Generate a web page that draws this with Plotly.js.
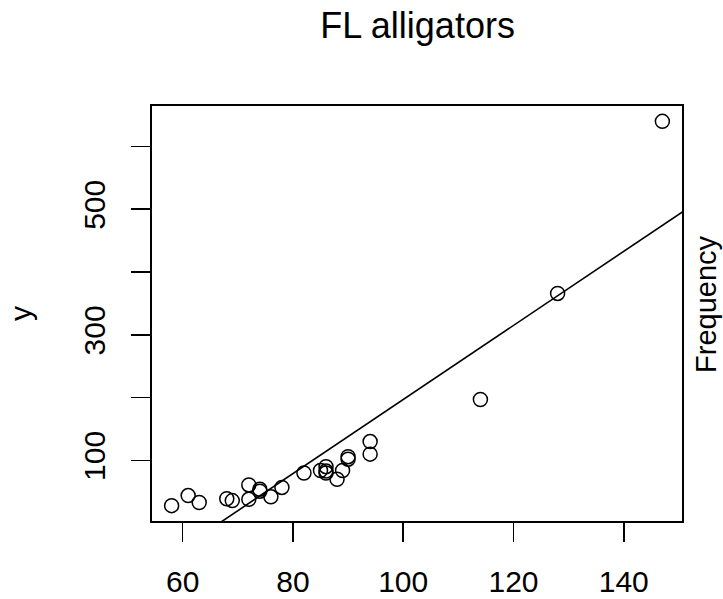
<!DOCTYPE html>
<html><head><meta charset="utf-8">
<script src="https://cdn.plot.ly/plotly-3.0.1.min.js"></script>
<style>html,body{margin:0;padding:0;background:#fff}</style>
</head><body>
<div id="chart" style="width:723px;height:599px"></div>
<script>
const lengthVals = [94, 74, 147, 58, 86, 94, 63, 86, 69, 72, 128, 85, 82, 86, 88, 72, 74, 61, 90, 89, 68, 76, 114, 90, 78];
const weightVals = [130, 51, 640, 28, 80, 110, 33, 90, 36, 38, 366, 84, 80, 83, 70, 61, 54, 44, 106, 84, 39, 42, 197, 102, 57];
const xTicks = [60, 80, 100, 120, 140];
const yTicks = [100, 200, 300, 400, 500, 600];
const yTickText = ['100', '', '300', '', '500', ''];

// least-squares fit (like abline(lm(y ~ x)))
const n = lengthVals.length;
const mx = lengthVals.reduce((a,b)=>a+b,0)/n;
const my = weightVals.reduce((a,b)=>a+b,0)/n;
let sxy = 0, sxx = 0;
for (let i=0;i<n;i++){ sxy += (lengthVals[i]-mx)*(weightVals[i]-my); sxx += (lengthVals[i]-mx)**2; }
const slope = sxy/sxx, intercept = my - slope*mx;

// R-style 4% axis extension
const xmin = Math.min(...lengthVals), xmax = Math.max(...lengthVals);
const ymin = Math.min(...weightVals), ymax = Math.max(...weightVals);
const xr = [xmin - 0.04*(xmax-xmin), xmax + 0.04*(xmax-xmin)];
const yr = [ymin - 0.04*(ymax-ymin), ymax + 0.04*(ymax-ymin)];
const lineX = [xr[0]-50, xr[1]+50];
const lineY = lineX.map(x => intercept + slope*x);

const font = 'Liberation Sans, Arial, Helvetica, sans-serif';
const traces = [
  {x: lengthVals, y: weightVals, mode: 'markers', type: 'scatter',
   marker: {symbol: 'circle-open', size: 14, color: '#000', line: {width: 1.5, color: '#000'}},
   hoverinfo: 'x+y', showlegend: false},
  {x: lineX, y: lineY, mode: 'lines', type: 'scatter',
   line: {color: '#000', width: 1.6}, showlegend: false, hoverinfo: 'skip'}
];
const axisCommon = {showline: true, linecolor: '#000', linewidth: 1.6, mirror: true,
  ticks: 'outside', ticklen: 19, tickwidth: 1.6, tickcolor: '#000',
  showgrid: false, zeroline: false, tickfont: {family: font, size: 30, color: '#000'}};
const layout = {
  width: 723, height: 599,
  margin: {l: 152, r: 41, t: 106, b: 78},
  paper_bgcolor: '#fff', plot_bgcolor: '#fff',
  title: {text: 'FL alligators', font: {family: font, size: 36, color: '#000'},
          x: 0.5775, xanchor: 'center', y: 0.958, yanchor: 'middle'},
  xaxis: Object.assign({}, axisCommon, {range: xr, tickmode: 'array', tickvals: xTicks,
          ticktext: xTicks.map(String), ticklabelstandoff: 14}),
  yaxis: Object.assign({}, axisCommon, {range: yr, tickmode: 'array', tickvals: yTicks,
          ticktext: yTickText, tickangle: -90, ticklabelstandoff: 14,
          title: {text: 'y', font: {family: font, size: 30, color: '#000'}, standoff: 38}}),
  annotations: [{text: 'Frequency', xref: 'paper', yref: 'paper', x: 1.0, xshift: 24, y: 0.523,
    textangle: -90, showarrow: false, xanchor: 'center', yanchor: 'middle',
    font: {family: font, size: 29, color: '#000'}}]
};
Plotly.newPlot('chart', traces, layout, {displayModeBar: false, staticPlot: true});
</script>
</body></html>
